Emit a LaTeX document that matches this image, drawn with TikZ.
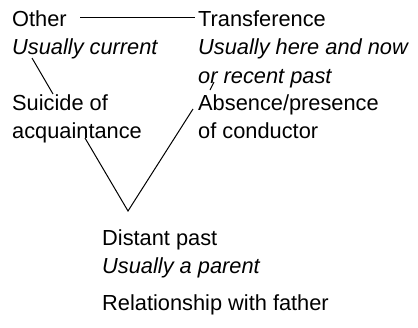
\documentclass[tikz,border=0pt]{standalone}
\usepackage{fontspec}
\setmainfont{Liberation Sans}
\begin{document}
\begin{tikzpicture}[x=1pt,y=-1pt,
  lbl/.style={anchor=base west,inner sep=0pt,font=\fontsize{21.8}{26}\selectfont},
  ilbl/.style={lbl,font=\fontsize{21.8}{26}\selectfont\itshape},
  link/.style={draw=black,line width=1pt}]
\useasboundingbox (0,0) rectangle (418,327);
% left column
\node[lbl] (other) at (12,26) {Other};
\node[ilbl] (usucur) at (12,54) {Usually current};
\node[lbl] (suicide) at (12,110) {Suicide of};
\node[lbl] (acq) at (12,138) {acquaintance};
% right column
\node[lbl] (trans) at (198,26) {Transference};
\node[ilbl] (usuhere) at (198,54) {Usually here and now};
\node[ilbl] (recent) at (198,83) {or recent past};
\node[lbl] (absence) at (198,110) {Absence/presence};
\node[lbl] (cond) at (198,138) {of conductor};
% bottom
\node[lbl] (distant) at (102,245) {Distant past};
\node[ilbl] (parent) at (102,273) {Usually a parent};
\node[lbl] (father) at (102,310) {Relationship with father};
% connector points
\coordinate (o1) at (80,17);
\coordinate (t1) at (195,17);
\coordinate (u1) at (32,58);
\coordinate (s1) at (53,94);
\coordinate (r1) at (214,82);
\coordinate (a1) at (210,90);
\coordinate (vl) at (85,138);
\coordinate (apex) at (128,211);
\coordinate (vr) at (193,109);
\draw[link] (o1) -- (t1);
\draw[link] (u1) -- (s1);
\draw[link] (r1) -- (a1);
\draw[link] (vl) -- (apex) -- (vr);
\end{tikzpicture}
\end{document}
